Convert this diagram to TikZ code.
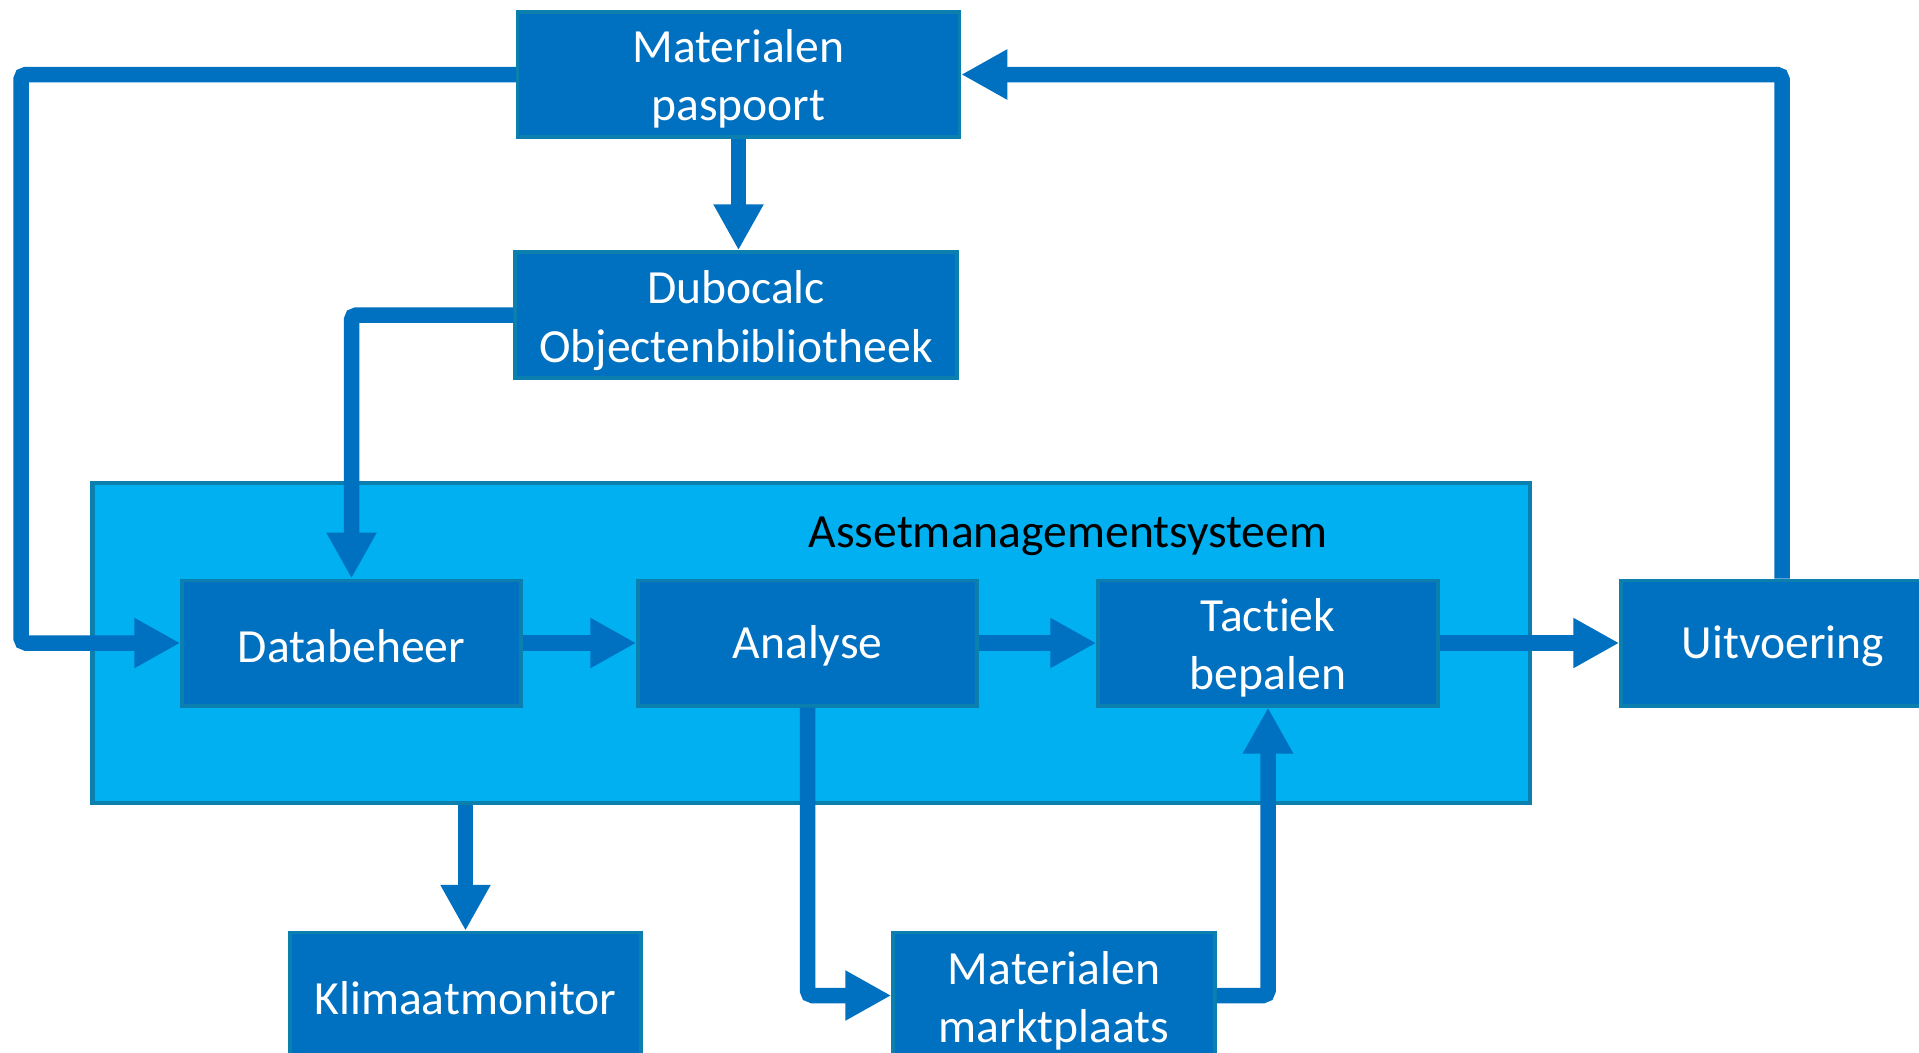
\documentclass[tikz,border=0pt]{standalone}
\usepackage{fontspec}
\setmainfont{Carlito}[Ligatures={NoCommon,NoRequired,NoContextual}]
\usetikzlibrary{arrows.meta,calc}
\definecolor{dark}{HTML}{0070C0}
\definecolor{light}{HTML}{00B0F0}
\definecolor{edge}{HTML}{0B80AE}
\tikzset{
  box/.style={draw=edge, line width=3.5pt, fill=dark, inner sep=0pt},
  boxtext/.style={text=white, inner sep=0pt, align=center,
    font=\fontsize{47.6}{58.5}\selectfont},
  arr/.style={draw=dark, line width=15.5pt, rounded corners=5pt,
    -{Triangle[length=46pt,width=47pt]}},
}
\begin{document}
\begin{tikzpicture}[x=1pt,y=-1pt]
\useasboundingbox (0,0) rectangle (1919,1052);
\clip (0,0) rectangle (1919,1052);
% container
\node[draw=edge, line width=4.5pt, fill=light, minimum width=1437.5pt, minimum height=320pt, inner sep=0pt] (asset) at (811.25,643) {};
\node[text=black, font=\fontsize{47.6}{57.5}\selectfont, inner sep=0pt] (title) at (1068,536) {Assetmanagementsysteem};
% boxes
\node[box, minimum width=442pt, minimum height=125pt] (mp) at (738.5,74.5) {};
\node[box, minimum width=442pt, minimum height=126pt] (dc) at (736,315) {};
\node[box, minimum width=339pt, minimum height=125.5pt] (dbh) at (351.5,643) {};
\node[box, minimum width=339pt, minimum height=125.5pt] (an) at (807.5,643) {};
\node[box, minimum width=340pt, minimum height=125.5pt] (tb) at (1268,643) {};
\node[box, minimum width=324pt, minimum height=125.5pt] (uit) at (1783,643) {};
\node[box, minimum width=351pt, minimum height=126pt] (km) at (465.5,995.5) {};
\node[box, minimum width=322pt, minimum height=126pt] (mk) at (1054,995.5) {};
% box texts
\node[boxtext] (mpt) at ($(mp)+(0,4.5)$) {Materialen\\paspoort};
\node[boxtext] (dct) at ($(dc)+(0,5.5)$) {Dubocalc\\Objectenbibliotheek};
\node[boxtext] (dbht) at ($(dbh)+(0,3)$) {Databeheer};
\node[boxtext] (ant) at ($(an)+(0,3)$) {Analyse};
\node[boxtext] (tbt) at ($(tb)+(0,5)$) {Tactiek\\bepalen};
\node[boxtext] (uitt) at ($(uit)+(0,3)$) {Uitvoering};
\node[boxtext] (kmt) at ($(km)+(0,3)$) {Klimaatmonitor};
\node[boxtext] (mkt) at ($(mk)+(0,5.5)$) {Materialen\\marktplaats};
% helper coordinates
\coordinate (L) at (21,0);
\coordinate (R) at (1782,0);
% connectors
\draw[arr] (mp.south) -- (mp.south |- dc.north);
\draw[arr] (mp.west) -- (mp.west -| L) -- (dbh.west -| L) -- (dbh.west);
\draw[arr] (dc.west) -| (dbh.north);
\draw[arr] (dbh.east) -- (an.west);
\draw[arr] (an.east) -- (tb.west);
\draw[arr] (tb.east) -- (uit.west);
\draw[arr] (R |- uit.north) -- (R |- mp.east) -- (mp.east);
\draw[arr] (km.north |- asset.south) -- (km.north);
\draw[arr] (an.south) |- (mk.west);
\draw[arr] (mk.east) -| (tb.south);
\end{tikzpicture}
\end{document}
